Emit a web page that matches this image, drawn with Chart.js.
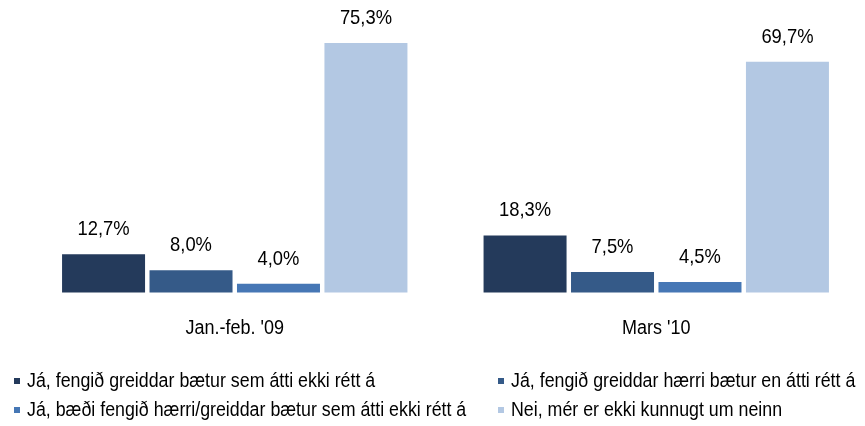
<!DOCTYPE html>
<html>
<head>
<meta charset="utf-8">
<script src="https://cdn.jsdelivr.net/npm/chart.js@4/dist/chart.umd.min.js"></script>
<style>
  html, body { margin: 0; padding: 0; background: #fff; overflow: hidden; }
  #wrap { position: relative; width: 867px; height: 426px; }
</style>
</head>
<body>
<div id="wrap"><canvas id="c"></canvas></div>
<script>
const categories = ["Jan.-feb. '09", "Mars '10"];
const seriesNames = [
  "Já, fengið greiddar bætur sem átti ekki rétt á",
  "Já, fengið greiddar hærri bætur en átti rétt á",
  "Já, bæði fengið hærri/greiddar bætur sem átti ekki rétt á",
  "Nei, mér er ekki kunnugt um neinn"
];
const seriesPaid = [12.7, 18.3];
const seriesHigher = [8.0, 7.5];
const seriesBoth = [4.0, 4.5];
const seriesNone = [75.3, 69.7];
const seriesColors = ["#243a5b", "#355a88", "#4677b5", "#b3c8e3"];

const FONT = "'Liberation Sans', Arial, sans-serif";
const fmt = v => v.toFixed(1).replace('.', ',') + '%';

function drawText(ctx, text, x, y, size, sx, align) {
  ctx.save();
  ctx.font = size + 'px ' + FONT;
  ctx.textAlign = align;
  ctx.textBaseline = 'middle';
  ctx.translate(x, y);
  ctx.scale(sx, 1);
  ctx.fillText(text, 0, 0);
  ctx.restore();
}

const labelsPlugin = {
  id: 'labels',
  afterDatasetsDraw(chart) {
    const ctx = chart.ctx;
    ctx.save();
    ctx.fillStyle = '#000';
    chart.data.datasets.forEach((ds, di) => {
      const meta = chart.getDatasetMeta(di);
      meta.data.forEach((bar, i) => {
        drawText(ctx, fmt(ds.data[i]), bar.x, bar.y - 25, 21, 0.875, 'center');
      });
    });
    const xs = chart.scales.x;
    chart.data.labels.forEach((lab, i) => {
      drawText(ctx, lab, xs.getPixelForValue(i), 328, 20, 0.9, 'center');
    });
    const colX = [14, 498];
    const rowY = [381, 410];
    chart.data.datasets.forEach((ds, di) => {
      const x = colX[di % 2];
      const y = rowY[Math.floor(di / 2)];
      ctx.fillStyle = ds.backgroundColor;
      ctx.fillRect(x, y - 3, 6, 6);
      ctx.fillStyle = '#000';
      drawText(ctx, ds.label, x + 13, y, 20, 0.89, 'left');
    });
    ctx.restore();
  }
};

new Chart(document.getElementById('c'), {
  type: 'bar',
  data: {
    labels: categories,
    datasets: [
      { label: seriesNames[0], data: seriesPaid, backgroundColor: seriesColors[0] },
      { label: seriesNames[1], data: seriesHigher, backgroundColor: seriesColors[1] },
      { label: seriesNames[2], data: seriesBoth, backgroundColor: seriesColors[2] },
      { label: seriesNames[3], data: seriesNone, backgroundColor: seriesColors[3] }
    ]
  },
  options: {
    responsive: true,
    maintainAspectRatio: false,
    animation: false,
    events: [],
    layout: { padding: { left: 24, right: 0, top: 27, bottom: 133.5 } },
    datasets: { bar: { categoryPercentage: 0.83, barPercentage: 0.949 } },
    plugins: { legend: { display: false }, tooltip: { enabled: false } },
    scales: {
      x: { display: false },
      y: { display: false, min: 1.4, max: 80 }
    }
  },
  plugins: [labelsPlugin]
});
</script>
</body>
</html>
